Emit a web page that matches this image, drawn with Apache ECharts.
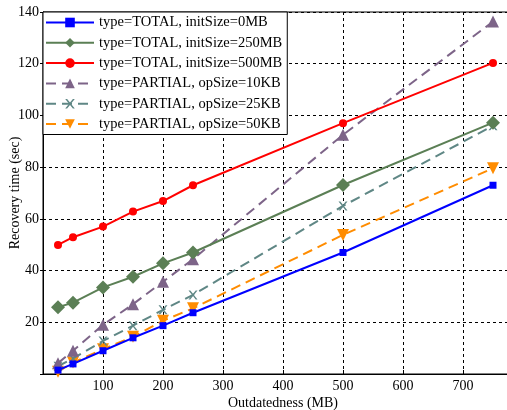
<!DOCTYPE html>
<html><head><meta charset="utf-8">
<script src="https://cdn.jsdelivr.net/npm/echarts@6/dist/echarts.min.js"></script>
<style>html,body{margin:0;padding:0;background:#fff}#c{width:507px;height:410px}</style>
</head><body><div id="c"></div>
<script>
const xValues = [25, 50, 100, 150, 200, 250, 500, 750];
const total0 = [1.5, 3.9, 9, 14, 18.7, 23.7, 47, 73];
const total250 = [25.8, 27.6, 33.5, 37.6, 42.8, 47, 73.1, 97.2];
const total500 = [49.9, 52.9, 57, 62.8, 66.9, 73, 97, 120.3];
const partial10 = [4.2, 9, 19, 27, 35.7, 44.4, 92.5, 136.3];
const partial25 = [3, 6, 12.8, 18.7, 24.8, 30.6, 65, 96];
const partial50 = [0.9, 4.4, 9.6, 14.4, 20.6, 25.4, 53.8, 79.6];
const seriesNames = ['type=TOTAL, initSize=0MB','type=TOTAL, initSize=250MB','type=TOTAL, initSize=500MB','type=PARTIAL, opSize=10KB','type=PARTIAL, opSize=25KB','type=PARTIAL, opSize=50KB'];
const xTicks = [100, 200, 300, 400, 500, 600, 700];
const yTicks = [20, 40, 60, 80, 100, 120, 140];

const font = 'Liberation Serif';
const pair = arr => xValues.map((x, i) => [x, arr[i]]);
const styles = [
  {data: total0, color: '#0000ff', symbol: 'rect', size: 7, dash: 'solid'},
  {data: total250, color: '#5b7f55', symbol: 'diamond', size: 14, dash: 'solid'},
  {data: total500, color: '#ff0000', symbol: 'circle', size: 8, dash: 'solid'},
  {data: partial10, color: '#7d6488', symbol: 'triangle', size: 12, dash: [10, 6]},
  {data: partial25, color: '#5f8785', symbol: 'path://M0,0 L2,0 L5,3 L8,0 L10,0 L6,4 L6,4 L10,8 L8,8 L5,5 L2,8 L0,8 L4,4 Z', size: 9, dash: [10, 6]},
  {data: partial50, color: '#ff8c00', symbol: 'triangle', size: 12, dash: [10, 6], rotate: 180}
];
const series = styles.map((s, i) => ({
  name: seriesNames[i], type: 'line', data: pair(s.data),
  symbol: s.symbol, symbolSize: s.size, symbolRotate: s.rotate || 0,
  showAllSymbol: true, animation: false,
  itemStyle: {color: s.color},
  lineStyle: {color: s.color, width: 2, type: s.dash},
  z: 10 - i
}));

const chart = echarts.init(document.getElementById('c'), null, {renderer: 'canvas'});
chart.setOption({
  backgroundColor: '#fff',
  animation: false,
  grid: {left: 43, top: 12, width: 480, height: 362, show: true, borderColor: '#000', borderWidth: 1,
    containLabel: false, outerBoundsMode: 'none'},
  legend: {
    left: 43, top: 12, orient: 'vertical', itemWidth: 48, itemHeight: 12, itemGap: 5.3,
    backgroundColor: '#fff', borderColor: '#000', borderWidth: 1, borderRadius: 0,
    padding: [3, 5, 3, 2],
    textStyle: {fontFamily: font, fontSize: 14.5, color: '#000'},
    data: seriesNames
  },
  xAxis: {
    type: 'value', min: 0, max: 800, interval: 100,
    name: 'Outdatedness (MB)', nameLocation: 'middle', nameGap: 22, nameMoveOverlap: false,
    nameTextStyle: {fontFamily: font, fontSize: 14, color: '#000'},
    axisLine: {lineStyle: {color: '#000', width: 1}},
    axisTick: {inside: true, length: 4, lineStyle: {color: '#000'}},
    axisLabel: {fontFamily: font, fontSize: 14, color: '#000', margin: 5,
      formatter: v => xTicks.includes(v) ? String(v) : ''},
    splitLine: {show: true, lineStyle: {color: '#000', type: [3, 3], width: 1}}
  },
  yAxis: {
    type: 'value', min: 0, max: 140, interval: 20,
    name: 'Recovery time (sec)', nameLocation: 'middle', nameGap: 21, nameMoveOverlap: false,
    nameTextStyle: {fontFamily: font, fontSize: 14, color: '#000'},
    axisLine: {show: true, lineStyle: {color: '#000', width: 1}},
    axisTick: {show: true, inside: false, length: 3, lineStyle: {color: '#000'}},
    axisLabel: {fontFamily: font, fontSize: 14, color: '#000', margin: 4,
      formatter: v => yTicks.includes(v) ? String(v) : ''},
    splitLine: {show: true, lineStyle: {color: '#000', type: [3, 3], width: 1}}
  },
  series: series
});
</script></body></html>
